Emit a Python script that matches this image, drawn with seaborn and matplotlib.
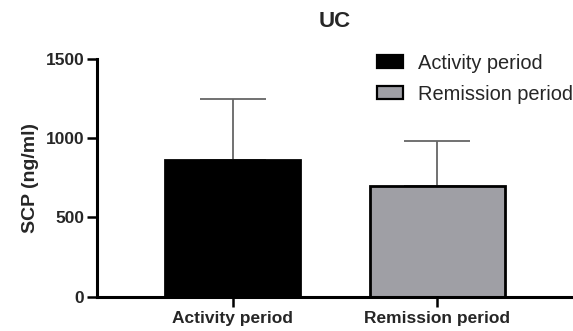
import matplotlib
matplotlib.use("Agg")
import matplotlib.pyplot as plt
import seaborn as sns
import pandas as pd

# Mean SCP level and SD for each disease phase
categories = ["Activity period", "Remission period"]
means = [865, 696]
sds = [380, 285]
colors = ["#000000", "#9e9ea6"]

y_ticks = [0, 500, 1000, 1500]

sns.set_theme(style="ticks")
plt.rcParams["font.family"] = ["Liberation Sans", "DejaVu Sans"]

df = pd.DataFrame({"group": categories, "scp": means})

fig = plt.figure(figsize=(5.73, 3.31), dpi=100)
ax = fig.add_axes([0.169, 0.1036, 0.831, 0.7184])

# Upper SD whiskers drawn behind the bars
ax.errorbar(range(len(categories)), means, yerr=[[0] * len(sds), sds],
            fmt="none", ecolor="#666666", elinewidth=1.3, capsize=24,
            capthick=1.3, zorder=1)

sns.barplot(data=df, x="group", y="scp", hue="group", palette=colors,
            width=0.66, edgecolor="black", linewidth=2, errorbar=None,
            legend=True, ax=ax, zorder=3)

ax.set_xlim(-0.663, 1.663)
ax.set_ylim(0, 1500)
ax.set_yticks(y_ticks)
ax.set_yticklabels([str(t) for t in y_ticks])

for side in ("top", "right"):
    ax.spines[side].set_visible(False)
for side in ("left", "bottom"):
    ax.spines[side].set_linewidth(2.2)
    ax.spines[side].set_color("black")
ax.spines["bottom"].set_zorder(5)

ax.tick_params(axis="y", length=7, width=1.8, color="black", pad=2,
               labelsize=12.5)
ax.tick_params(axis="x", length=7, width=1.8, color="black", pad=3,
               labelsize=12.5)
for lab in ax.get_xticklabels() + ax.get_yticklabels():
    lab.set_fontweight("bold")

ax.set_xlabel("")
ax.set_ylabel("SCP (ng/ml)", fontsize=14, fontweight="bold", labelpad=5)
ax.set_title("UC", fontsize=16, fontweight="bold", pad=23)

leg = ax.legend(loc="upper left", bbox_to_anchor=(0.658, 0.838),
                bbox_transform=fig.transFigure, frameon=False,
                fontsize=14.4, handlelength=1.3, handleheight=0.6,
                labelspacing=0.6, handletextpad=0.75, borderpad=0,
                borderaxespad=0)
for h in leg.legend_handles:
    h.set_edgecolor("black")
    h.set_linewidth(1.6)

fig.savefig("out.png", dpi=100)
